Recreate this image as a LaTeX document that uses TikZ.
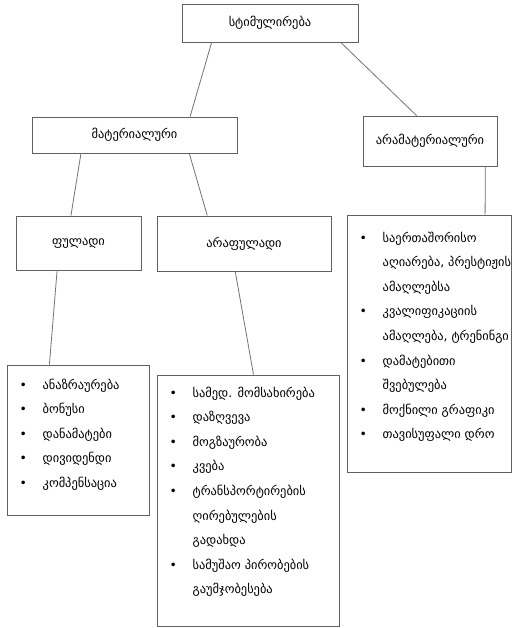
\documentclass[tikz,border=0pt]{standalone}
\usepackage{fontspec}
\setmainfont{DejaVu Sans}
\usetikzlibrary{calc}
\definecolor{boxgray}{gray}{0.38}
\definecolor{linegray}{gray}{0.45}
\newcommand\lbul{\makebox[23pt][l]{\hspace{0pt}•}}
\newcommand\lind{\hspace*{23pt}}
\begin{document}
\begin{tikzpicture}[x=1pt,y=-1pt,
  box/.style={draw=boxgray, line width=0.95pt, rectangle, inner sep=0pt, font=\fontsize{12.4}{15}\selectfont},
  conn/.style={draw=linegray, line width=0.8pt},
  lst/.style={anchor=north west, align=left, inner sep=0pt, font=\fontsize{12.4}{24.6}\selectfont}]
\useasboundingbox (0,0) rectangle (514,628);
\fill[white] (0,0) rectangle (514,628);

\node[box, minimum width=176pt, minimum height=38pt] (top) at (270,23) {სტიმულირება};
\node[box, minimum width=205pt, minimum height=36pt] (mat) at (134.5,135) {მატერიალური};
\node[box, minimum width=134pt, minimum height=50pt] (aramat) at (430,141) {არამატერიალური};
\node[box, minimum width=125pt, minimum height=54pt] (ful) at (78.5,243) {ფულადი};
\node[box, minimum width=174pt, minimum height=55pt] (araful) at (244,243.5) {არაფულადი};
\node[box, minimum width=142pt, minimum height=150pt] (list1) at (78,440) {};
\node[box, minimum width=182pt, minimum height=251pt] (list2) at (248,500.5) {};
\node[box, minimum width=164pt, minimum height=257pt] (list3) at (429,343.5) {};

\node[lst] (l1t) at (19.5,378.5) {\lbul ანაზრაურება\\ \lbul ბონუსი\\ \lbul დანამატები\\ \lbul დივიდენდი\\ \lbul კომპენსაცია};
\node[lst] (l2t) at (169.5,386.5) {\lbul სამედ. მომსახირება\\ \lbul დაზღვევა\\ \lbul მოგზაურობა\\ \lbul კვება\\ \lbul ტრანსპორტირების\\ \lind ღირებულების\\ \lind გადახდა\\ \lbul სამუშაო პირობების\\ \lind გაუმჯობესება};
\node[lst] (l3t) at (359.5,231.5) {\lbul საერთაშორისო\\ \lind აღიარება, პრესტიჟის\\ \lind ამაღლებსა\\ \lbul კვალიფიკაციის\\ \lind ამაღლება, ტრენინგი\\ \lbul დამატებითი\\ \lind შვებულება\\ \lbul მოქნილი გრაფიკი\\ \lbul თავისუფალი დრო};

\draw[conn] ($(top.south west)!0.17!(top.south east)$) -- ($(mat.north west)!0.77!(mat.north east)$);
\draw[conn] ($(top.south west)!0.90!(top.south east)$) -- ($(aramat.north west)!0.40!(aramat.north east)$);
\draw[conn] ($(mat.south west)!0.24!(mat.south east)$) -- ($(ful.north west)!0.44!(ful.north east)$);
\draw[conn] ($(mat.south west)!0.766!(mat.south east)$) -- ($(araful.north west)!0.29!(araful.north east)$);
\draw[conn] ($(aramat.south west)!0.91!(aramat.south east)$) -- ($(list3.north west)!0.84!(list3.north east)$);
\draw[conn] ($(ful.south west)!0.33!(ful.south east)$) -- ($(list1.north west)!0.30!(list1.north east)$);
\draw[conn] ($(araful.south west)!0.45!(araful.south east)$) -- ($(list2.north west)!0.53!(list2.north east)$);
\end{tikzpicture}
\end{document}
